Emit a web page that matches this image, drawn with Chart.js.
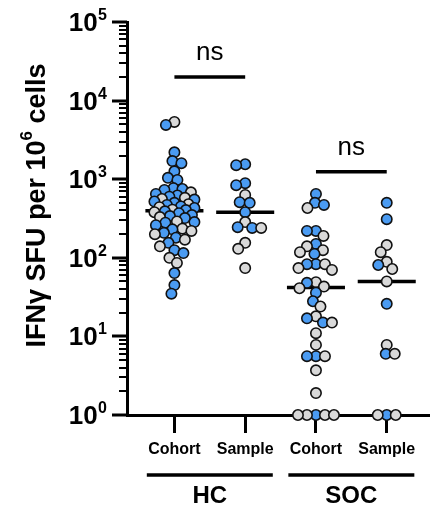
<!DOCTYPE html>
<html><head><meta charset="utf-8">
<script src="https://cdn.jsdelivr.net/npm/chart.js@4/dist/chart.umd.min.js"></script>
<style>html,body{margin:0;padding:0;background:#fff}</style>
</head><body>
<canvas id="c" width="436" height="509"></canvas>
<script>
// ---- data ----
const categories = ['Cohort', 'Sample', 'Cohort', 'Sample'];
const groupLabels = ['HC', 'SOC'];
const groupMembers = [[0, 1], [2, 3]];

const hcCohortBlue = [4900, 2200, 1700, 1600, 1260, 1040, 980, 770, 750, 730, 650, 620, 600, 550, 520, 500, 470, 450, 430, 405, 390, 370, 350, 340, 320, 285, 280, 260, 230, 208, 180, 155, 125, 115, 64, 45, 35];
const hcCohortGrey = [5350, 680, 580, 560, 480, 440, 410, 380, 330, 290, 235, 220, 200, 170, 140, 100, 86];
const hcSampleBlue = [1550, 1510, 890, 840, 510, 500, 380, 245, 240];
const hcSampleGrey = [630, 285, 240, 155, 130, 74];
const socCohortBlue = [650, 500, 470, 220, 220, 150, 112, 83, 83, 48, 36, 28, 17, 15, 5.6, 5.6, 1];
const socCohortGrey = [430, 190, 140, 125, 118, 83, 74, 70, 49, 43, 41, 24, 18, 15, 11, 7.8, 5.6, 3.7, 1.9, 1, 1, 1, 1];
const socSampleBlue = [500, 310, 81, 26, 6, 1];
const socSampleGrey = [145, 118, 89, 72, 50, 7.8, 6, 1, 1];

const comparisonPairs = [[0, 1], [2, 3]];
const comparisonLabels = ['ns', 'ns'];
const comparisonLevels = [20000, 1240];

const yTickDecades = [0, 1, 2, 3, 4, 5];
const yTitleParts = ['IFNγ SFU per 10', '6', ' cells'];   // base, superscript, rest

// ---- styling ----
const BLUE = '#4A9BF2', GREY = '#D9D9D9', EDGE = '#111111';
const FONT = "Arial, 'Liberation Sans', sans-serif";
Chart.defaults.font.family = FONT;
Chart.defaults.color = '#000';

const groupsBlue = [hcCohortBlue, hcSampleBlue, socCohortBlue, socSampleBlue];
const groupsGrey = [hcCohortGrey, hcSampleGrey, socCohortGrey, socSampleGrey];

function median(arr) {
  const s = [...arr].sort((a, b) => a - b);
  const n = s.length;
  return n % 2 ? s[(n - 1) / 2] : (s[n / 2 - 1] + s[n / 2]) / 2;
}

const MED_HALF = 0.41;

const datasets = [];
groupsBlue.forEach((b, gi) => {
  const pts = b.map(v => ({ x: gi + 1, y: v, c: 'b' })).concat(groupsGrey[gi].map(v => ({ x: gi + 1, y: v, c: 'g' })));
  pts.sort((p, q) => q.y - p.y);
  datasets.push({
    type: 'scatter', data: pts, order: 0, clip: false,
    pointRadius: 5.2, pointBorderWidth: 1.6, pointBorderColor: EDGE,
    pointBackgroundColor: ctx => (ctx.raw && ctx.raw.c === 'b') ? BLUE : GREY,
    pointHoverRadius: 5.2
  });
});
groupsBlue.forEach((b, gi) => {
  const m = median(b.concat(groupsGrey[gi]));
  datasets.push({
    type: 'line', data: [{ x: gi + 1 - MED_HALF, y: m }, { x: gi + 1 + MED_HALF, y: m }],
    borderColor: '#000', borderWidth: 3.5, pointRadius: 0, order: 1, clip: false
  });
});
comparisonPairs.forEach((p, i) => {
  datasets.push({
    type: 'line', data: [{ x: p[0] + 1, y: comparisonLevels[i] }, { x: p[1] + 1, y: comparisonLevels[i] }],
    borderColor: '#000', borderWidth: 3.5, pointRadius: 0, order: 1, clip: false
  });
});

const axisTickPlugin = {
  id: 'axisTicks',
  afterDraw(chart) {
    const ctx = chart.ctx, ys = chart.scales.y, xs = chart.scales.x;
    const x = ys.right;
    ctx.save();
    ctx.strokeStyle = '#000';
    ctx.fillStyle = '#000';
    // y ticks (major + minor) and power-of-ten labels
    ys.ticks.forEach(t => {
      const py = Math.round(ys.getPixelForValue(t.value));
      ctx.lineWidth = t.major ? 3 : 2;
      ctx.beginPath();
      ctx.moveTo(x - (t.major ? 15 : 8), py);
      ctx.lineTo(x, py);
      ctx.stroke();
      if (t.major) {
        const e = Math.round(Math.log10(t.value));
        const supTxt = String(e);
        ctx.font = 'bold 16px ' + FONT;
        const sw = ctx.measureText(supTxt).width;
        const right = x - 20;
        ctx.textAlign = 'left';
        ctx.textBaseline = 'alphabetic';
        ctx.fillText(supTxt, right - sw, py - 2);
        ctx.font = 'bold 26px ' + FONT;
        ctx.textAlign = 'right';
        ctx.fillText('10', right - sw - 0.5, py + 9);
      }
    });
    // y title (rotated) with superscript
    ctx.save();
    const tcx = 35, tcy = ys.top + (ys.bottom - ys.top) / 2 - 13;
    ctx.translate(tcx, tcy);
    ctx.rotate(-Math.PI / 2);
    const baseFont = 'bold 27px ' + FONT, supFont = 'bold 17px ' + FONT;
    ctx.font = baseFont; const w1 = ctx.measureText(yTitleParts[0]).width; const w3 = ctx.measureText(yTitleParts[2]).width;
    ctx.font = supFont; const w2 = ctx.measureText(yTitleParts[1]).width;
    let tx = -(w1 + w2 + w3) / 2;
    ctx.textAlign = 'left'; ctx.textBaseline = 'alphabetic';
    ctx.font = baseFont; ctx.fillText(yTitleParts[0], tx, 10); tx += w1;
    ctx.font = supFont; ctx.fillText(yTitleParts[1], tx, -3); tx += w2;
    ctx.font = baseFont; ctx.fillText(yTitleParts[2], tx, 10);
    ctx.restore();
    // comparison labels
    ctx.font = '26px ' + FONT;
    ctx.textAlign = 'center';
    ctx.textBaseline = 'alphabetic';
    comparisonPairs.forEach((p, i) => {
      const cx = (xs.getPixelForValue(p[0] + 1) + xs.getPixelForValue(p[1] + 1)) / 2;
      const cy = ys.getPixelForValue(comparisonLevels[i]);
      ctx.fillText(comparisonLabels[i], cx, cy - 17);
    });
    // group labels under the x axis
    groupMembers.forEach((m, i) => {
      const x0 = xs.getPixelForValue(m[0] + 1 - 0.39);
      const x1 = xs.getPixelForValue(m[m.length - 1] + 1 + 0.39);
      const ly = xs.bottom - 34;
      ctx.lineWidth = 3.5;
      ctx.beginPath();
      ctx.moveTo(x0, ly); ctx.lineTo(x1, ly); ctx.stroke();
      ctx.font = 'bold 24px ' + FONT;
      ctx.textBaseline = 'middle';
      ctx.fillText(groupLabels[i], (x0 + x1) / 2, ly + 21);
    });
    ctx.restore();
  }
};

const chart = new Chart(document.getElementById('c'), {
  type: 'scatter',
  data: { datasets },
  options: {
    responsive: false, animation: false,
    events: [],
    layout: { padding: { top: 22, right: 0, left: 0, bottom: 0 } },
    plugins: { legend: { display: false }, tooltip: { enabled: false } },
    scales: {
      x: {
        type: 'linear', min: 0.33, max: 4.6,
        afterBuildTicks: s => { s.ticks = categories.map((c, i) => ({ value: i + 1 })); },
        ticks: { callback: v => categories[Math.round(v) - 1], font: { size: 16, weight: 'bold' }, color: '#000', padding: 7, autoSkip: false, maxRotation: 0 },
        grid: { drawOnChartArea: false, drawTicks: true, tickLength: 18, tickWidth: 3, tickColor: '#000' },
        border: { width: 3, color: '#000' },
        afterFit: s => { s.height = 94; }
      },
      y: {
        type: 'logarithmic', min: 1, max: 100000,
        afterBuildTicks: s => {
          const t = [];
          yTickDecades.forEach(e => {
            if (e === yTickDecades[yTickDecades.length - 1]) { t.push({ value: Math.pow(10, e), major: true }); return; }
            for (let d = 1; d < 10; d++) t.push({ value: d * Math.pow(10, e), major: d === 1 });
          });
          s.ticks = t;
        },
        ticks: { display: false, autoSkip: false },
        grid: { drawOnChartArea: false, drawTicks: false },
        border: { width: 3, color: '#000' },
        afterFit: s => { s.width = 127; }
      }
    }
  },
  plugins: [axisTickPlugin]
});

// ---- beeswarm placement computed from the scales ----
(function swarm() {
  const xs = chart.scales.x, ys = chart.scales.y;
  const ppu = xs.getPixelForValue(2) - xs.getPixelForValue(1);
  const D = 9, MAXHALF = 20;
  for (let gi = 0; gi < 4; gi++) {
    const ds = chart.data.datasets[gi];
    const placed = [];
    ds.data.forEach(p => {
      const py = ys.getPixelForValue(p.y);
      let best = 0, bestScore = -1, found = false;
      for (let step = 0; step <= MAXHALF * 2 && !found; step++) {
        const cands = step === 0 ? [0] : [-step * 0.5, step * 0.5];
        for (const off of cands) {
          let md = Infinity;
          for (const q of placed) {
            const d = Math.hypot(q.ox - off, q.py - py);
            if (d < md) md = d;
          }
          if (md >= D) { best = off; found = true; break; }
          if (md > bestScore) { bestScore = md; best = off; }
        }
      }
      placed.push({ ox: best, py });
      p.x = gi + 1 + best / ppu;
    });
  }
  chart.update('none');
})();
</script>
</body></html>
